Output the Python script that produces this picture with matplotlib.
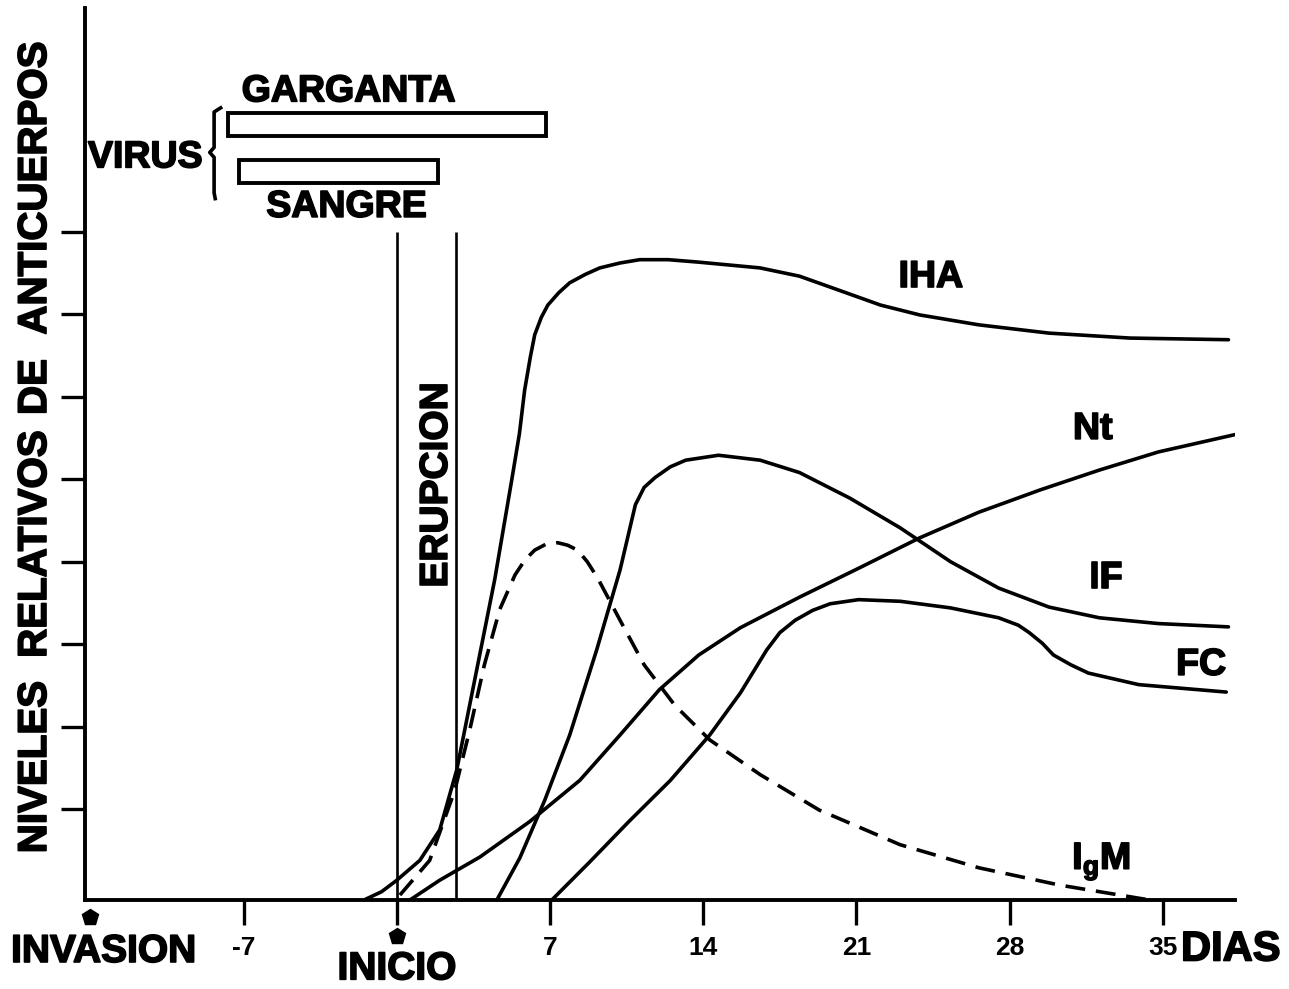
import matplotlib
matplotlib.use('Agg')
import matplotlib.pyplot as plt
import matplotlib.patheffects as pe

plt.rcParams['font.family'] = ['Liberation Sans', 'DejaVu Sans']
plt.rcParams['font.weight'] = 'bold'
plt.rcParams['mathtext.fontset'] = 'custom'
plt.rcParams['mathtext.bf'] = 'Liberation Sans:bold'
plt.rcParams['mathtext.rm'] = 'Liberation Sans:bold'

# days after onset (INICIO = 0) and relative antibody level
iha_days = [-1.5, -0.7, 0, 1.05, 1.96, 2.74, 3.56, 4.47, 5.25, 5.6, 5.84, 6.1, 6.3, 6.6,
            6.9, 7.4, 7.9, 8.6, 9.27, 10.2, 11.1, 12.4, 13.8, 16.6, 18.4, 20.2, 22.1,
            23.9, 26.6, 29.8, 33.5, 38.0]
iha_level = [0, 0.1, 0.24, 0.48, 0.85, 1.58, 2.67, 3.88, 5.09, 5.65, 6.18, 6.58, 6.85, 7.06,
             7.21, 7.36, 7.48, 7.58, 7.66, 7.72, 7.76, 7.76, 7.73, 7.66, 7.56, 7.39, 7.21,
             7.09, 6.97, 6.87, 6.81, 6.79]

igm_days = [0.14, 1.5, 2.65, 3.33, 4.0, 4.7, 5.4, 5.85, 6.3, 6.8, 7.35, 7.8, 8.26, 8.7,
            9.18, 10.2, 11.3, 12.7, 14.3, 16.6, 19.3, 23.0, 26.6, 30.3, 34.4]
igm_level = [0.06, 0.48, 1.33, 2.06, 2.85, 3.52, 3.94, 4.12, 4.24, 4.31, 4.33, 4.30, 4.24, 4.1,
             3.90, 3.39, 2.85, 2.36, 1.94, 1.52, 1.09, 0.67, 0.39, 0.18, 0]

nt_days = [0.6, 1.96, 3.79, 6.07, 8.36, 10.2, 12.0, 13.8, 15.7, 18.4, 21.1, 23.9,
           26.6, 29.4, 32.1, 34.8, 38.3]
nt_level = [0, 0.24, 0.52, 0.95, 1.45, 2.0, 2.55, 2.97, 3.30, 3.67, 4.02, 4.39,
            4.70, 4.97, 5.21, 5.43, 5.64]

if_days = [4.57, 5.62, 6.76, 7.9, 9.13, 10.2, 10.9, 11.3, 11.8, 12.5, 13.2, 14.7, 16.6,
           18.4, 20.7, 23.0, 25.3, 27.5, 29.8, 32.1, 34.8, 38.0]
if_level = [0, 0.51, 1.21, 2.0, 3.03, 4.0, 4.79, 5.0, 5.12, 5.25, 5.33, 5.39, 5.33,
            5.18, 4.87, 4.51, 4.10, 3.78, 3.55, 3.42, 3.35, 3.31]

fc_days = [7.08, 8.81, 10.6, 12.5, 14.3, 15.7, 16.9, 17.5, 18.2, 19.0, 19.8, 21.1, 23.0,
           25.3, 27.5, 28.4, 28.9, 29.5, 30.0, 30.8, 31.6, 33.9, 37.9]
fc_level = [0, 0.46, 0.95, 1.45, 2.0, 2.51, 3.03, 3.24, 3.39, 3.51, 3.59, 3.64, 3.62,
            3.54, 3.42, 3.33, 3.24, 3.11, 2.97, 2.85, 2.75, 2.61, 2.52]

# virus shedding periods (start, end in days)
virus_sites = ['GARGANTA', 'SANGRE']
virus_start = [-7.7, -7.2]
virus_end = [6.8, 1.87]

onset_day = 0
rash_day = 2.7
invasion_day = -14

x_ticks = [-7, 0, 7, 14, 21, 28, 35]
x_labels = ['-7', '', '7', '14', '21', '28', '35']
y_ticks = [1.1, 2.1, 3.1, 4.1, 5.1, 6.1, 7.1, 8.1]

heavy = [pe.withStroke(linewidth=1.2, foreground='black')]

fig = plt.figure(figsize=(12.89, 9.89), dpi=100)
ax = fig.add_axes([85 / 1289, 89 / 989, 1150 / 1289, 892 / 989])
ax.set_xlim(-14.25, 38.3)
ax.set_ylim(0, 10.81)

lw = 2.6
ax.plot(iha_days, iha_level, color='black', lw=lw, solid_capstyle='round', solid_joinstyle='round')
ax.plot(nt_days, nt_level, color='black', lw=lw, solid_capstyle='round', solid_joinstyle='round')
ax.plot(if_days, if_level, color='black', lw=lw, solid_capstyle='round', solid_joinstyle='round')
ax.plot(fc_days, fc_level, color='black', lw=lw, solid_capstyle='round', solid_joinstyle='round')
igm_line, = ax.plot(igm_days, igm_level, color='black', lw=lw)
igm_line.set_dashes((5.5, 3))

# onset and rash lines
ax.vlines([onset_day, rash_day], 0, y_ticks[-1], color='black', lw=1.9)
ax.text(1.83, 5.03, 'ERUPCION', rotation=90, ha='center', va='center',
        fontsize=28, fontweight='bold', path_effects=heavy)

# virus bars
bar_y = [9.40, 8.83]
ax.barh(bar_y, [e - s for s, e in zip(virus_start, virus_end)], left=virus_start,
        height=0.28, color='white', edgecolor='black', linewidth=2.8)
ax.text(-2.2, 9.8, virus_sites[0], ha='center', va='center', fontsize=27,
        fontweight='bold', path_effects=heavy)
ax.text(-2.3, 8.40, virus_sites[1], ha='center', va='center', fontsize=27,
        fontweight='bold', path_effects=heavy)
ax.text(-11.5, 9.0, 'VIRUS', ha='center', va='center', fontsize=27,
        fontweight='bold', path_effects=heavy)
bx = -8.35
ax.plot([bx + 0.3, bx, bx, bx - 0.2, bx, bx, bx + 0.05],
        [9.6, 9.55, 9.12, 9.06, 9.0, 8.57, 8.5], color='black', lw=2.6)

# curve labels
ax.text(24.4, 7.55, 'IHA', ha='center', va='center', fontsize=27, fontweight='bold', path_effects=heavy)
ax.text(31.8, 5.71, 'Nt', ha='center', va='center', fontsize=27, fontweight='bold', path_effects=heavy)
ax.text(32.4, 3.9, 'IF', ha='center', va='center', fontsize=27, fontweight='bold', path_effects=heavy)
ax.text(36.75, 2.85, 'FC', ha='center', va='center', fontsize=27, fontweight='bold', path_effects=heavy)
ax.text(32.2, 0.47, r'$\mathbf{I_{g}M}$', ha='center', va='center', fontsize=27, path_effects=heavy)

# axes styling
for side in ['top', 'right']:
    ax.spines[side].set_visible(False)
for side in ['left', 'bottom']:
    ax.spines[side].set_linewidth(2.8)
ax.set_yticks(y_ticks)
ax.set_yticklabels([])
ax.tick_params(axis='y', length=17, width=2.4, direction='out')
ax.set_xticks(x_ticks)
ax.set_xticklabels(x_labels, fontsize=19, fontweight='bold')
ax.tick_params(axis='x', length=18, width=2.4, direction='out', pad=8)

# event markers and labels below axis
ax.plot([invasion_day, onset_day], [-0.2, -0.44], linestyle='none', marker='p',
        markersize=12, color='black', clip_on=False)
ax.text(-13.4, -0.63, 'INVASION', ha='center', va='center', fontsize=28,
        fontweight='bold', path_effects=heavy, clip_on=False)
ax.text(0.0, -0.84, 'INICIO', ha='center', va='center', fontsize=28,
        fontweight='bold', path_effects=heavy, clip_on=False)
ax.text(38.1, -0.6, 'DIAS', ha='center', va='center', fontsize=30,
        fontweight='bold', path_effects=heavy, clip_on=False)

# y axis title, words spaced along the axis
for word, py in [('NIVELES', 767), ('RELATIVOS', 544), ('DE', 387), ('ANTICUERPOS', 188)]:
    fig.text(35 / 1289, 1 - py / 989, word, rotation=90, ha='center', va='center',
             fontsize=29, fontweight='bold', path_effects=heavy)

fig.savefig('out.png', dpi=100)
plt.close(fig)
